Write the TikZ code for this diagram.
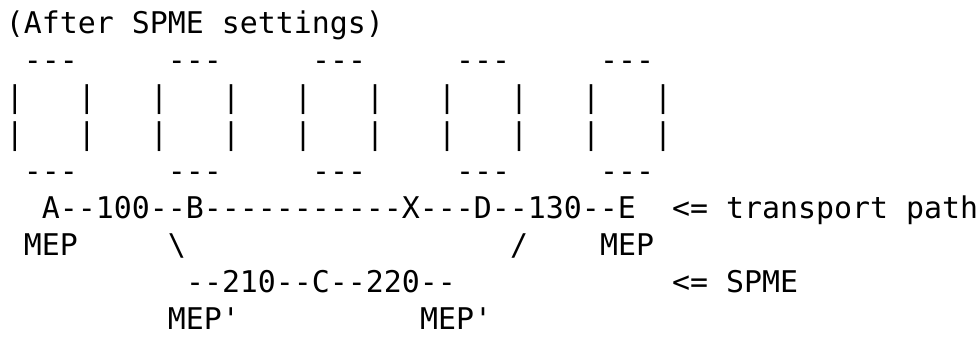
\documentclass[tikz,border=0pt]{standalone}
\usepackage{fontspec}
\setmonofont{DejaVu Sans Mono}
\tikzset{ascii/.style={anchor=base west, inner sep=0pt, outer sep=0pt,
    font=\ttfamily\fontsize{14.95}{19}\selectfont}}
\begin{document}
\begin{tikzpicture}[x=9pt,y=-18.5pt]
  \useasboundingbox (-0.3333,-0.8919) rectangle (54.1111,8.2703);
  \node[ascii] (title) at (0,0) {(After SPME settings)};
  % the five nodes
  \foreach \k in {0,...,4}{
    \node[ascii] (top\k) at ({8*\k+1},1) {---};
    \node[ascii] (lsa\k) at ({8*\k},2) {|};
    \node[ascii] (rsa\k) at ({8*\k+4},2) {|};
    \node[ascii] (lsb\k) at ({8*\k},3) {|};
    \node[ascii] (rsb\k) at ({8*\k+4},3) {|};
    \node[ascii] (bot\k) at ({8*\k+1},4) {---};
  }
  \node[ascii] (path) at (2,5) {A--100--B-----------X---D--130--E};
  \node[ascii] (pathlbl) at (37,5) {<= transport path};
  \node[ascii] (mepa) at (1,6) {MEP};
  \node[ascii] (bsl) at (9,6) {\textbackslash};
  \node[ascii] (sl) at (28,6) {/};
  \node[ascii] (mepe) at (33,6) {MEP};
  \node[ascii] (spme) at (10,7) {--210--C--220--};
  \node[ascii] (spmelbl) at (37,7) {<= SPME};
  \node[ascii] (mepb) at (9,8) {MEP'};
  \node[ascii] (mepx) at (23,8) {MEP'};
\end{tikzpicture}
\end{document}
